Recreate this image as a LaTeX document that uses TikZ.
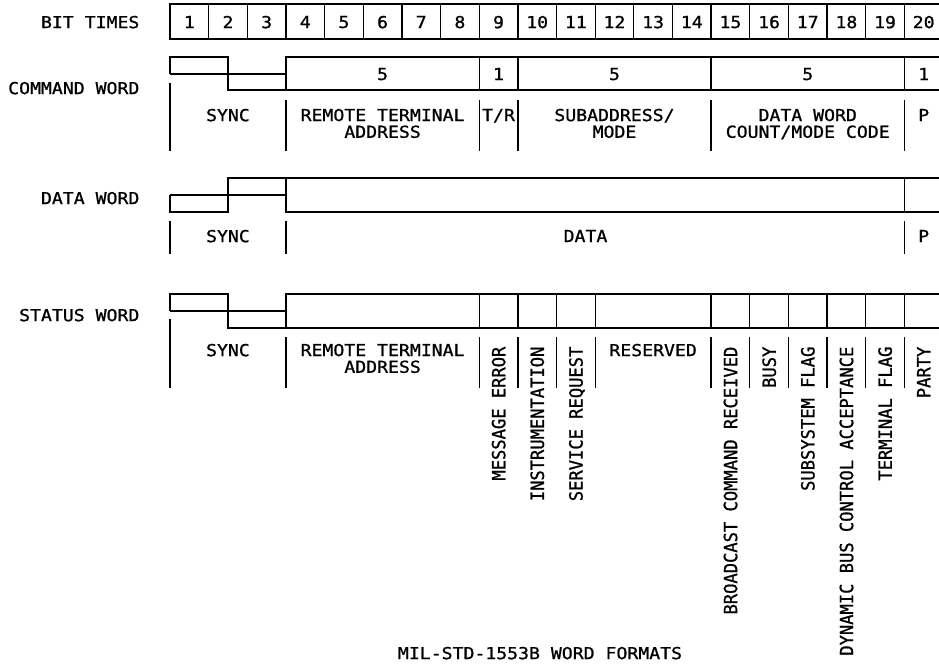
\documentclass[tikz,border=0pt]{standalone}
\usepackage{fontspec}
\usepackage{tikz}
\newfontfamily\plotfont{DejaVu Sans Mono}[FakeStretch=1.1, FakeBold=1]
\newfontfamily\flagfont{DejaVu Sans Mono}[FakeStretch=0.94, FakeBold=1]

\begin{document}
\begin{tikzpicture}[x=38.65pt, y=-1pt, line width=1.3pt,
		every node/.style={inner sep=0pt, text depth=0pt, font=\plotfont\fontsize{16.5}{16.7}\selectfont},
		field/.style={align=center},
		flag/.style={rotate=90, anchor=east, font=\flagfont\fontsize{18.2}{18.2}\selectfont},
		rowname/.style={anchor=east}]
		\useasboundingbox (-4.3984,0) rectangle (19.8965,664);
		
		% bit times
		\node[rowname] (bittimes) at (-0.776,22) {BIT TIMES};
		\draw (0,4) rectangle (20,39);
		\foreach \k in {1,...,19} \draw (\k,4) -- (\k,39);
		\foreach \k in {1,...,20} \node (bit\k) at (\k-0.5,22) {\k};
		
		% command word
		\node[rowname] (cmdname) at (-0.776,88) {COMMAND WORD};
		\draw (0,74) -- (0,57) -- (1.5,57) -- (1.5,90) -- (3,90);
		\draw (0,74) -- (3,74);
		\draw (3,57) rectangle (20,90);
		\foreach \k in {8,9,14,19} \draw (\k,57) -- (\k,90);
		\node (cmdbits1) at (5.5,74) {5};
		\node (cmdbits2) at (8.5,74) {1};
		\node (cmdbits3) at (11.5,74) {5};
		\node (cmdbits4) at (16.5,74) {5};
		\node (cmdbits5) at (19.5,74) {1};
		\draw (0,83) -- (0,151);
		\foreach \k in {3,8,9,14,19} \draw (\k,100) -- (\k,151);
		\node (cmdsync) at (1.5,115) {SYNC};
		\node[field] (cmdrta) at (5.5,123.3) {REMOTE TERMINAL\\ADDRESS};
		\node (cmdtr) at (8.5,115) {T/R};
		\node[field] (cmdsub) at (11.5,123.3) {SUBADDRESS/\\MODE};
		\node[field] (cmdcount) at (16.5,123.3) {DATA WORD\\COUNT/MODE CODE};
		\node (cmdpar) at (19.5,115) {P};
		
		% data word
		\node[rowname] (dataname) at (-0.776,198) {DATA WORD};
		\draw (0,195) -- (0,212) -- (1.5,212) -- (1.5,178) -- (3,178);
		\draw (0,195) -- (3,195);
		\draw (3,178) rectangle (20,212);
		\draw (19,178) -- (19,212);
		\foreach \k in {0,3,19} \draw (\k,221) -- (\k,254);
		\node (datasync) at (1.5,236) {SYNC};
		\node (datadata) at (10.75,236) {DATA};
		\node (datapar) at (19.5,236) {P};
		
		% status word
		\node[rowname] (statname) at (-0.776,315) {STATUS WORD};
		\draw (0,311) -- (0,294) -- (1.5,294) -- (1.5,328) -- (3,328);
		\draw (0,311) -- (3,311);
		\draw (3,294) rectangle (20,328);
		\foreach \k in {8,9,10,11,14,15,16,17,18,19} \draw (\k,294) -- (\k,328);
		\draw (0,319) -- (0,388);
		\foreach \k in {3,8,9,10,11,14,15,16,17,18,19} \draw (\k,337) -- (\k,388);
		\node (statsync) at (1.5,350) {SYNC};
		\node[field] (statrta) at (5.5,358.3) {REMOTE TERMINAL\\ADDRESS};
		\node[flag] (staterr) at (8.5,346) {MESSAGE ERROR};
		\node[flag] (statinst) at (9.5,346) {INSTRUMENTATION};
		\node[flag] (statsreq) at (10.5,346) {SERVICE REQUEST};
		\node (statres) at (12.5,350) {RESERVED};
		\node[flag] (statbcast) at (14.5,346) {BROADCAST COMMAND RECEIVED};
		\node[flag] (statbusy) at (15.5,346) {BUSY};
		\node[flag] (statsub) at (16.5,346) {SUBSYSTEM FLAG};
		\node[flag] (statdbca) at (17.5,346) {DYNAMIC BUS CONTROL ACCEPTANCE};
		\node[flag] (statterm) at (18.5,346) {TERMINAL FLAG};
		\node[flag] (statpar) at (19.5,346) {PARTY};
		
		\node (caption) at (9.573,653) {MIL-STD-1553B WORD FORMATS};
	\end{tikzpicture}
\end{document}
